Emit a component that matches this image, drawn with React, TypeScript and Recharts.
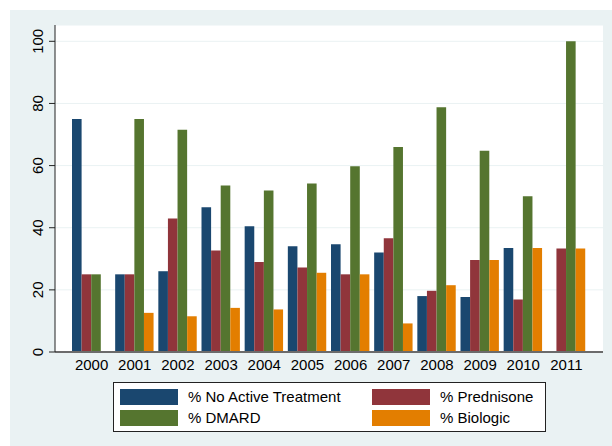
import { BarChart, Bar, XAxis, YAxis, CartesianGrid } from "recharts";

const years = ["2000", "2001", "2002", "2003", "2004", "2005", "2006", "2007", "2008", "2009", "2010", "2011"];
const noActive = [75, 25, 26, 46.6, 40.5, 34, 34.7, 32, 18, 17.7, 33.5, 0];
const prednisone = [25, 25, 43, 32.7, 29, 27.2, 25, 36.6, 19.7, 29.6, 16.9, 33.3];
const dmard = [25, 75, 71.5, 53.6, 52, 54.2, 59.8, 66, 78.8, 64.8, 50.1, 100];
const biologic = [0, 12.6, 11.5, 14.2, 13.7, 25.5, 25, 9.2, 21.5, 29.6, 33.5, 33.3];
const yTicks = [0, 20, 40, 60, 80, 100];

const series = [
  { key: "noActive", name: "% No Active Treatment", color: "#1a476f" },
  { key: "prednisone", name: "% Prednisone", color: "#90353b" },
  { key: "dmard", name: "% DMARD", color: "#55752f" },
  { key: "biologic", name: "% Biologic", color: "#e37e00" },
];

const data = years.map((year, i) => ({
  year,
  noActive: noActive[i],
  prednisone: prednisone[i],
  dmard: dmard[i],
  biologic: biologic[i],
}));

const font = '"Liberation Sans", Arial, Helvetica, sans-serif';

function YTick({ x, y, payload }: any) {
  return (
    <text
      x={x}
      y={y}
      transform={`rotate(-90 ${x} ${y})`}
      textAnchor="middle"
      fontSize={15}
      fontFamily={font}
      fill="#000"
    >
      {payload.value}
    </text>
  );
}

function LegendBox() {
  // row 1 = series 0,1 ; row 2 = series 2,3
  const rows = [
    [series[0], series[1]],
    [series[2], series[3]],
  ];
  return (
    <div
      style={{
        position: "absolute",
        left: 113,
        top: 382,
        width: 431,
        height: 48,
        background: "#fff",
        border: "1px solid #222",
        fontFamily: font,
        fontSize: 15,
        color: "#000",
      }}
    >
      {rows.map((row, r) =>
        row.map((s, c) => (
          <div
            key={s.key}
            style={{
              position: "absolute",
              left: c === 0 ? 6 : 258,
              top: r === 0 ? 5 : 26,
              display: "flex",
              alignItems: "center",
              height: 17,
            }}
          >
            <div style={{ width: 58, height: 16, background: s.color }} />
            <span style={{ marginLeft: 10, whiteSpace: "nowrap" }}>{s.name}</span>
          </div>
        ))
      )}
    </div>
  );
}

export default function App() {
  return (
    <div style={{ position: "absolute", left: 0, top: 0, width: 612, height: 446, background: "#fff" }}>
      <div style={{ position: "absolute", left: 10, top: 10, width: 602, height: 436, background: "#eaf2f3" }} />
      <div style={{ position: "absolute", left: 0, top: 0 }}>
        <BarChart
          width={612}
          height={446}
          data={data}
          margin={{ top: 25, right: 9, left: 0, bottom: 64 }}
          barSize={9.6}
          barGap={0}
        >
          <CartesianGrid vertical={false} stroke="#eaf2f3" fill="#ffffff" fillOpacity={1} />
          <XAxis
            dataKey="year"
            height={30}
            tickLine={false}
            tickSize={0}
            tickMargin={7}
            padding={{ left: 15, right: 15 }}
            axisLine={{ stroke: "#6b6b6b", strokeWidth: 2 }}
            tick={{ fontSize: 15, fill: "#000", fontFamily: font }}
          />
          <YAxis
            width={55}
            domain={[0, 105.25]}
            ticks={yTicks}
            allowDataOverflow
            tickSize={6}
            tickMargin={6}
            axisLine={{ stroke: "#222" }}
            tickLine={{ stroke: "#222" }}
            tick={<YTick />}
          />
          {series.map((s) => (
            <Bar key={s.key} dataKey={s.key} name={s.name} fill={s.color} isAnimationActive={false} />
          ))}
        </BarChart>
      </div>
      <LegendBox />
    </div>
  );
}
